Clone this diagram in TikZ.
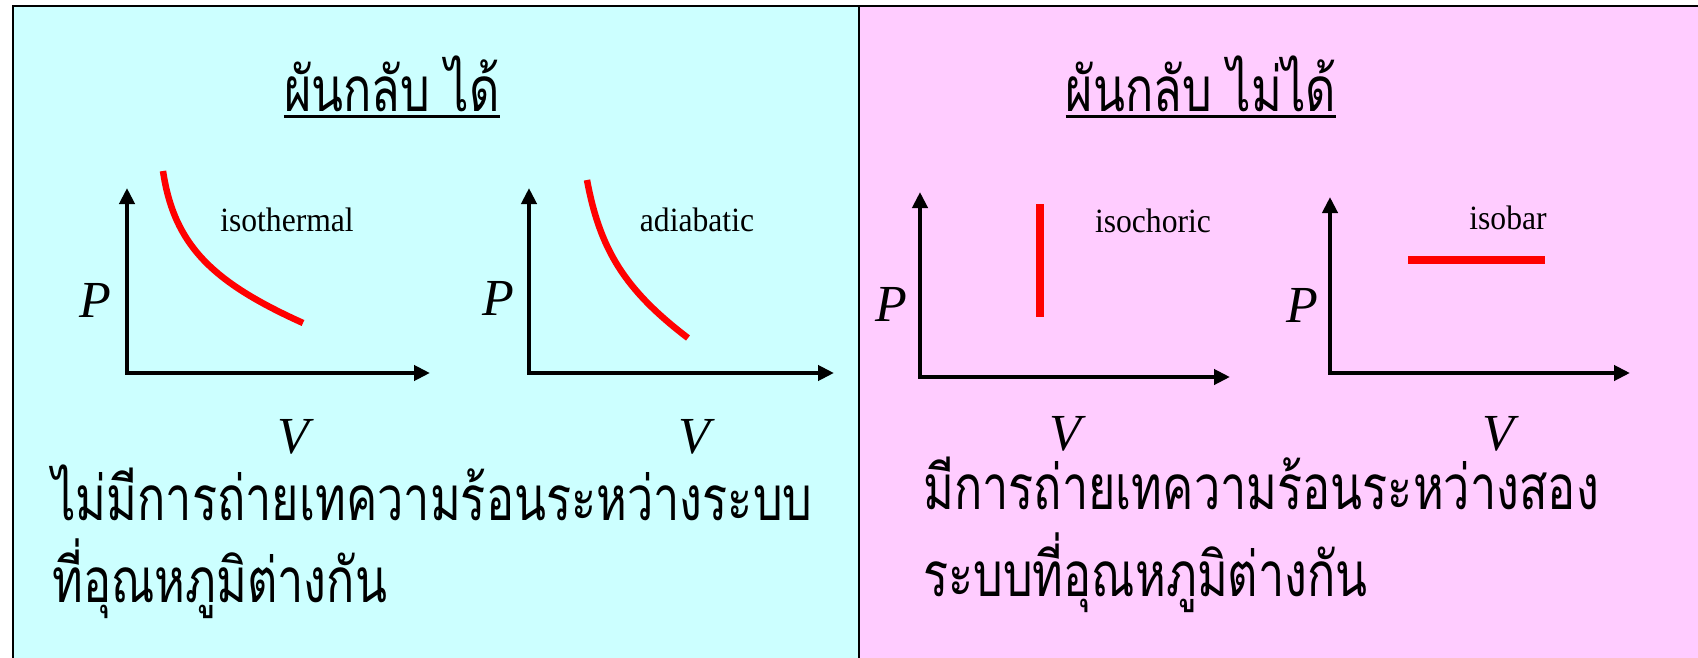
\documentclass[tikz,border=0pt]{standalone}
\usepackage{fontspec}
\setmainfont{Liberation Serif}
\newfontfamily\thai[Script=Thai,FakeStretch=0.755]{Loma}
\newfontfamily\lblfont[FakeStretch=0.93]{Liberation Serif}
\usetikzlibrary{arrows.meta}
\definecolor{cyanbg}{RGB}{204,255,255}
\definecolor{pinkbg}{RGB}{255,204,255}
\begin{document}
\begin{tikzpicture}[x=1pt,y=-1pt,
  axis/.style={line width=4pt, {Triangle[length=16pt,width=15pt]}-{Triangle[length=16pt,width=15pt]}},
  proc/.style={red, line width=6.5pt},
  bar/.style={red, line width=8pt},
  lbl/.style={font=\lblfont\fontsize{34}{40}\selectfont, inner sep=0, anchor=base},
  var/.style={font=\fontsize{52}{60}\selectfont\itshape, inner sep=0, anchor=base},
  thaitxt/.style={font=\thai\fontsize{62}{70}\selectfont, inner sep=0, anchor=base west},
  ttl/.style={font=\thai\fontsize{62}{70}\selectfont, inner sep=0, anchor=base},
  uline/.style={line width=3pt}]
\useasboundingbox (0,0) rectangle (1698,658);
\fill[white] (0,0) rectangle (1698,658);
\fill[cyanbg] (13,6) rectangle (859,658);
\fill[pinkbg] (859,6) rectangle (1698,658);
\draw[line width=2pt] (13,658) -- (13,6) -- (1698,6);
\draw[line width=2pt] (859,6) -- (859,658);

% titles
\node[ttl] (t1) at (392,112) {ผันกลับ ได้};
\draw[uline] ([yshift=-5pt]t1.base west) -- ([yshift=-5pt]t1.base east);
\node[ttl] (t2) at (1201,112) {ผันกลับ ไม่ได้};
\draw[uline] ([yshift=-5pt]t2.base west) -- ([yshift=-5pt]t2.base east);

% graph 1
\coordinate (y1) at (127,188); \coordinate (o1) at (127,373); \coordinate (x1) at (430,373);
\draw[axis] (y1) -- (o1) -- (x1);
\node[var] (p1) at (95,317) {P};
\node[var] (v1) at (293,453) {V};
\draw[proc] (163,171) .. controls (174,245) and (212,282) .. (303,323);
\node[lbl] (l1) at (287,231) {isothermal};

% graph 2
\coordinate (y2) at (529,188); \coordinate (o2) at (529,373); \coordinate (x2) at (834,373);
\draw[axis] (y2) -- (o2) -- (x2);
\node[var] (p2) at (498,315) {P};
\node[var] (v2) at (694,453) {V};
\draw[proc] (587,180) .. controls (600,250) and (625,290) .. (688,338);
\node[lbl] (l2) at (697,231) {adiabatic};

% graph 3
\coordinate (y3) at (920,192); \coordinate (o3) at (920,377); \coordinate (x3) at (1230,377);
\draw[axis] (y3) -- (o3) -- (x3);
\node[var] (p3) at (891,321) {P};
\node[var] (v3) at (1065,450) {V};
\draw[bar] (1040,204) -- (1040,317);
\node[lbl] (l3) at (1153,232) {isochoric};

% graph 4
\coordinate (y4) at (1330,197); \coordinate (o4) at (1330,373); \coordinate (x4) at (1630,373);
\draw[axis] (y4) -- (o4) -- (x4);
\node[var] (p4) at (1302,322) {P};
\node[var] (v4) at (1498,450) {V};
\draw[bar] (1408,260) -- (1545,260);
\node[lbl] (l4) at (1508,229) {isobar};

% bottom texts
\node[thaitxt] (a1) at (52,520) {ไม่มีการถ่ายเทความร้อนระหว่างระบบ};
\node[thaitxt] (a2) at (52,602) {ที่อุณหภูมิต่างกัน};
\node[thaitxt] (b1) at (923,509) {มีการถ่ายเทความร้อนระหว่างสอง};
\node[thaitxt] (b2) at (923,596) {ระบบที่อุณหภูมิต่างกัน};
\end{tikzpicture}
\end{document}
